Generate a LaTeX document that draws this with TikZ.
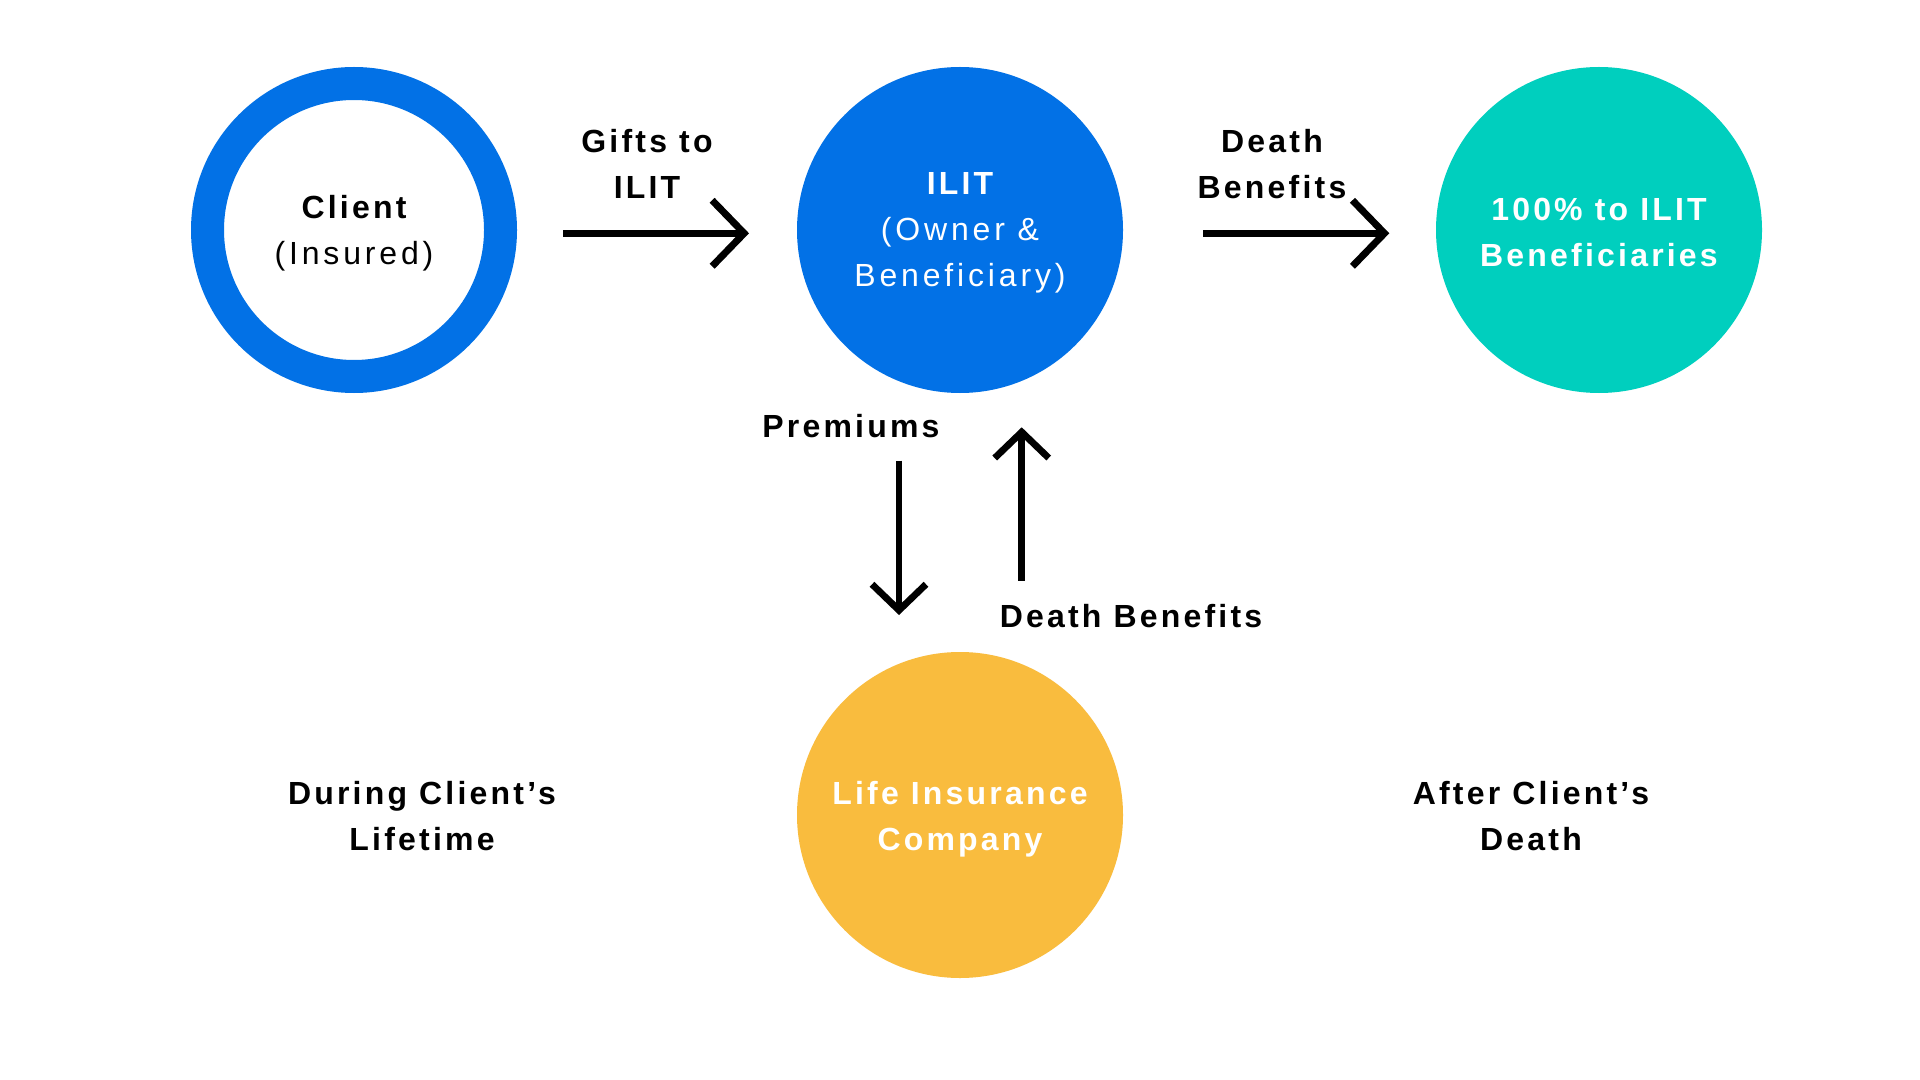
\documentclass[tikz,border=0pt]{standalone}
\usepackage{fontspec}
\setmainfont{Liberation Sans}[UprightFeatures={LetterSpace=12}, BoldFeatures={LetterSpace=10}]
\usetikzlibrary{arrows.meta,calc}
\definecolor{ilitblue}{HTML}{0271E6}
\definecolor{benefteal}{HTML}{00CFBE}
\definecolor{lifeyellow}{HTML}{F9BC3E}
\begin{document}
\begin{tikzpicture}[x=0.5pt,y=-0.5pt,
  lbl/.style={inner sep=0pt, anchor=base, align=center, font=\fontsize{16}{23}\selectfont\bfseries},
  wlbl/.style={lbl, text=white},
  disc/.style={circle, inner sep=0pt, outer sep=0pt, minimum size=163pt},
  ring/.style={circle, inner sep=0pt, draw=ilitblue, line width=16.5pt, minimum size=146.5pt},
  flow/.style={line width=3.5pt, line cap=butt, -{Straight Barb[length=16pt, width=33pt, sharp]}},
  vflow/.style={line width=3.4pt, line cap=butt, -{Straight Barb[length=13pt, width=27pt, sharp]}}]
\useasboundingbox[fill=white] (0,0) rectangle (1920,1080);

% circles
\node[ring] (client) at (354,230) {};
\node[disc, fill=ilitblue] (ilit) at (960,230) {};
\node[disc, fill=benefteal] (benef) at (1599,230) {};
\node[disc, fill=lifeyellow] (lic) at (960,815) {};

% texts in circles (anchor base = last line)
\node[lbl] (clientt) at (354,265) {Client\\{\mdseries (Insured)}};
\node[wlbl] (ilitt) at (960,287) {ILIT\\{\mdseries (Owner \&}\\{\mdseries Beneficiary)}};
\node[wlbl] (beneft) at (1599,266.7) {100\% to ILIT\\Beneficiaries};
\node[wlbl] (lict) at (960,850) {Life Insurance\\Company};

% connector labels
\node[lbl] (giftst) at (647,198.3) {Gifts to\\ILIT};
\node[lbl] (deatht) at (1272,198.3) {Death\\Benefits};
\node[lbl] (premt) at (851,437.7) {Premiums};
\node[lbl] (dbt) at (1131,627.3) {Death Benefits};

% period labels
\node[lbl] (duringt) at (422,850.7) {During Client’s\\Lifetime};
\node[lbl] (aftert) at (1531,850) {After Client’s\\Death};

% connectors
\draw[flow] ($(client.east)+(46,3.3)$) -- ($(ilit.west)+(-48,3.3)$);
\draw[flow] ($(ilit.east)+(80,3.3)$) -- ($(benef.west)+(-46.7,3.3)$);
\draw[vflow] ($(ilit.south)+(-61,67.7)$) -- ($(lic.north)+(-61,-37)$);
\draw[vflow] ($(lic.north)+(61.7,-71.3)$) -- ($(ilit.south)+(61.7,34.3)$);
\end{tikzpicture}
\end{document}
